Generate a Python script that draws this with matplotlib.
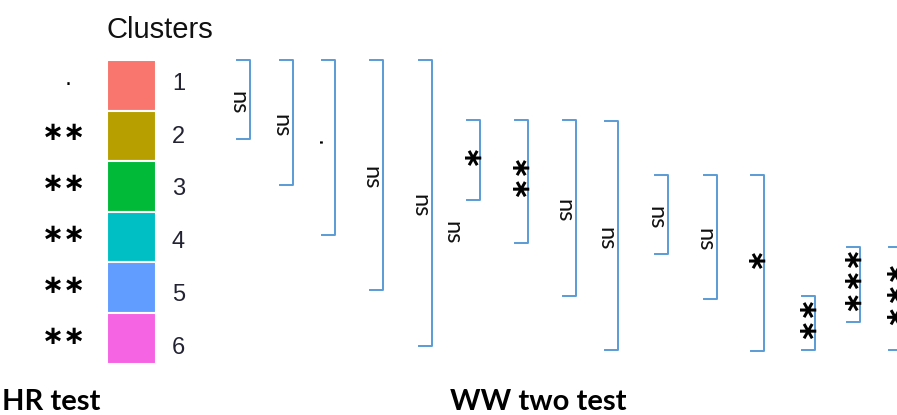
import matplotlib
matplotlib.use("Agg")
import matplotlib.pyplot as plt

# clusters (HR test)
clusters = ["1", "2", "3", "4", "5", "6"]
cluster_colors = ["#F8766D", "#B79F00", "#00BA38", "#00BFC4", "#619CFF", "#F564E3"]
hr_signif = [".", "**", "**", "**", "**", "**"]

# pairwise comparisons (WW two test)
pairs = ["1-2", "1-3", "1-4", "1-5", "1-6",
         "2-3", "2-4", "2-5", "2-6",
         "3-4", "3-5", "3-6",
         "5-6", "4-5", "4-6"]
ww_signif = ["ns", "ns", ".", "ns", "ns",
             "*", "**", "ns", "ns",
             "ns", "ns", "*",
             "**", "***", "***"]

# bracket layout (pixels)
br_x = [250, 293, 335, 383, 432, 480, 528, 576, 618, 668, 717, 764, 815, 860, 902]
br_top = [60, 60, 60, 60, 60, 120, 120, 120, 121, 175, 175, 175, 296, 247, 247]
br_bot = [139, 185, 235, 290, 346, 200, 243, 296, 350, 254, 299, 351, 350, 322, 350]

BLUE = "#5B9BD5"
W, H = 897, 415

fig = plt.figure(figsize=(W / 100, H / 100), dpi=100)
ax = fig.add_axes([0, 0, 1, 1])
ax.set_xlim(0, W)
ax.set_ylim(H, 0)
ax.axis("off")

# legend boxes
row_h = 50.6
tops = [60 + i * row_h for i in range(len(clusters))]
ax.bar([131] * len(clusters), [row_h] * len(clusters), width=49, bottom=tops,
       color=cluster_colors, edgecolor="white", linewidth=1.5)

ax.text(107, 38, "Clusters", fontsize=21, family="Liberation Sans", color="#111111")
for i, c in enumerate(clusters):
    ax.text(172, 84 + 52.7 * i, c, fontsize=17, family="Liberation Sans",
            color="#222233", va="center", ha="left")
    s = hr_signif[i]
    if s == ".":
        ax.text(68, 89, ".", fontsize=16, family="DejaVu Sans", ha="center", va="bottom")
    else:
        ax.text(64, 133 + 51 * (i - 1), s.replace("*", "\u2217"), fontsize=19,
                fontweight="bold", family="DejaVu Sans", ha="center", va="center")

# brackets
for x, t, b, lab in zip(br_x, br_top, br_bot, ww_signif):
    ax.plot([x - 13, x, x, x - 13], [t, t, b, b], color=BLUE, lw=1.4,
            solid_joinstyle="round", clip_on=False)
    ym = (t + b) / 2
    if lab == "ns":
        ax.text(x - 12, ym + 3, "ns", rotation=270, fontsize=17, family="Lato",
                ha="center", va="center", color="#111111")
    elif lab == ".":
        ax.text(x - 12, ym - 4, ".", rotation=270, fontsize=16, family="DejaVu Sans",
                ha="center", va="center")
    else:
        ax.text(x - 12, ym, lab.replace("*", "\u2217"), rotation=270, fontsize=19,
                fontweight="bold", family="DejaVu Sans", ha="center", va="center",
                linespacing=1.0)

# stray label
ax.text(452, 233, "ns", rotation=270, fontsize=17, family="Lato",
        ha="center", va="center", color="#111111")

ax.text(2, 410, "HR test", fontsize=21, fontweight="bold", family="Lato", va="baseline")
ax.text(450, 410, "WW two test", fontsize=21, fontweight="bold", family="Lato", va="baseline")

fig.savefig("out.png", dpi=100)
